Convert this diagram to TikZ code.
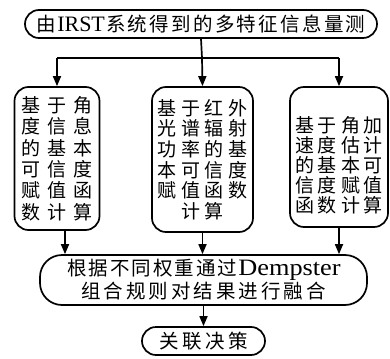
\documentclass[tikz,border=0pt]{standalone}
\usepackage{fontspec}
\usepackage{graphicx}
\setmainfont{Liberation Serif}
\newfontfamily\cjk{Noto Sans CJK SC}
\usetikzlibrary{arrows.meta}
\ExplSyntaxOn
\NewDocumentCommand\crow{mm}{\tl_map_inline:nn{#2}{\makebox[#1]{##1}}}
\ExplSyntaxOff
\begin{document}
\begin{tikzpicture}[x=1pt,y=-1pt,
  box/.style={draw,line width=1.7pt,align=center,inner sep=0pt},
  arr/.style={line width=1.7pt,-{Triangle[width=8pt,length=10pt]}},
  ln/.style={line width=1.7pt}]
\useasboundingbox (0,0) rectangle (390,358);
\node[box,rounded corners=14pt,minimum width=352pt,minimum height=28pt,
  font={\fontsize{19.5}{22}\selectfont\cjk}] (top) at (201,24)
  {\crow{21.8pt}{由}{\fontsize{22}{22}\selectfont\rmfamily IRST}\crow{21.8pt}{系统得到的多特征信息量测}};
\node[box,rounded corners=14pt,minimum width=85pt,minimum height=143pt,
  font={\fontsize{19}{21.4}\selectfont\cjk}] (b1) at (57,158.5)
  {\crow{26pt}{基于角}\\\crow{26pt}{度信息}\\\crow{26pt}{的基本}\\\crow{26pt}{可信度}\\\crow{26pt}{赋值函}\\\crow{26pt}{数计算}};
\node[box,rounded corners=14pt,minimum width=101pt,minimum height=145pt,
  font={\fontsize{19}{20.6}\selectfont\cjk}] (b2) at (202.5,159.5)
  {\crow{23.5pt}{基于红外}\\\crow{23.5pt}{光谱辐射}\\\crow{23.5pt}{功率的基}\\\crow{23.5pt}{本可信度}\\\crow{23.5pt}{赋值函数}\\\crow{23.5pt}{计算}};
\node[box,rounded corners=14pt,minimum width=98pt,minimum height=140pt,
  label={[align=center,yshift=-8pt,font={\fontsize{19}{20}\selectfont\cjk}]center:{%
   \crow{23pt}{基于角加}\\\crow{23pt}{速度估计}\\\crow{23pt}{的基本可}\\\crow{23pt}{信度赋值}\\\crow{23pt}{函数计算}}}] (b3) at (339,157) {};
\node[box,rounded corners=22pt,minimum width=327pt,minimum height=50pt,
  font={\fontsize{19.5}{23}\selectfont\cjk}] (fus) at (203.5,280)
  {\crow{21.5pt}{根据不同权重通过}{\fontsize{23.5}{23}\selectfont\rmfamily\scalebox{1.12}[1]{Dempster}}\\
   \crow{22.5pt}{组合规则对结果进行融合}};
\node[box,rounded corners=14pt,minimum width=123pt,minimum height=28pt,
  font={\fontsize{19.5}{22}\selectfont\cjk}] (fin) at (203.5,341)
  {\crow{23pt}{关联决策}};
\coordinate (split) at (202,58);
\draw[ln] (top.south) -- (split);
\draw[ln] (b1.north |- split) -- (b3.north |- split);
\draw[arr] (split) -- (b2.north);
\draw[arr] (b1.north |- split) -- (b1.north);
\draw[arr] (b3.north |- split) -- (b3.north);
\draw[arr] ([xshift=8pt]b1.south) -- ([xshift=8pt]b1.south |- fus.north);
\draw[arr] (b2.south) -- (b2.south |- fus.north);
\draw[arr] (b3.south) -- (b3.south |- fus.north);
\draw[arr] (fus.south) -- (fin.north);
\end{tikzpicture}
\end{document}
